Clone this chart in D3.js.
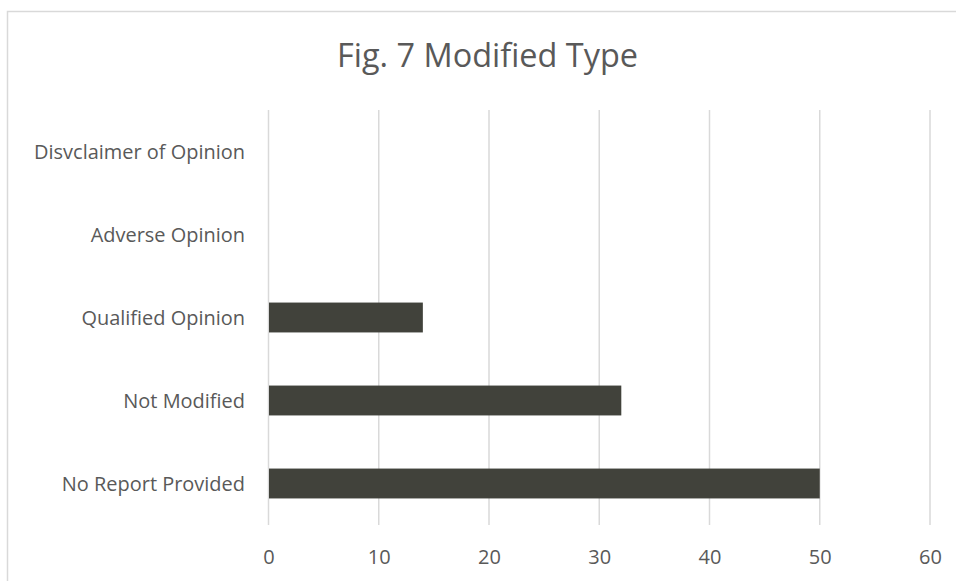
<!DOCTYPE html>
<html><head><meta charset="utf-8">
<script src="https://cdn.jsdelivr.net/npm/d3@7"></script>
<style>html,body{margin:0;padding:0;background:#fff;}</style>
</head><body>
<svg id="c" width="956" height="581"></svg>
<script>
const categories = ["Disvclaimer of Opinion","Adverse Opinion","Qualified Opinion","Not Modified","No Report Provided"];
const values = [0, 0, 14, 32, 50];
const xTicks = [0,10,20,30,40,50,60];
const title = "Fig. 7 Modified Type";

(function(){
const svg = d3.select("#c");
const font = "'Open Sans', sans-serif";
const textColor = "#595959";

// chart border
svg.append("rect").attr("x",7.5).attr("y",11.5).attr("width",960).attr("height",600)
  .attr("fill","none").attr("stroke","#d9d9d9").attr("stroke-width",1.5);

const pLeft = 268.5, pRight = 930, pTop = 110, pBottom = 525;
const x = d3.scaleLinear().domain([0,60]).range([pLeft,pRight]);
const y = d3.scaleBand().domain(categories).range([pTop,pBottom]).paddingInner(0.64).paddingOuter(0.32);

function fitSize(text, target){
  const t = svg.append("text").attr("font-family",font).attr("font-size",100).text(text);
  const w = t.node().getComputedTextLength(); t.remove();
  return 100*target/w;
}

// gridlines
svg.append("g").selectAll("line").data(xTicks).join("line")
  .attr("x1",d=>x(d)).attr("x2",d=>x(d)).attr("y1",pTop).attr("y2",pBottom)
  .attr("stroke","#d9d9d9").attr("stroke-width",1.5);

// bars
svg.append("g").selectAll("rect").data(categories).join("rect")
  .attr("x",x(0)+0.5).attr("y",d=>y(d))
  .attr("width",(d,i)=>Math.max(0,x(values[i])-x(0)-0.5))
  .attr("height",y.bandwidth()).attr("fill","#41423b");

// x axis labels
const xAxis = d3.axisBottom(x).tickValues(xTicks).tickSize(0).tickPadding(0);
const ga = svg.append("g").attr("transform",`translate(0,${pBottom})`).call(xAxis);
ga.select(".domain").remove();
ga.selectAll("text").attr("font-family",font).attr("font-size",20).attr("fill",textColor)
  .attr("dy",null).attr("y",39);

// y axis labels
const catSize = fitSize(categories[0], 211);
const yAxis = d3.axisLeft(y).tickSize(0).tickPadding(0);
const gy = svg.append("g").attr("transform",`translate(245,0)`).call(yAxis);
gy.select(".domain").remove();
gy.selectAll("text").attr("font-family",font).attr("font-size",catSize).attr("fill",textColor)
  .attr("dy","0.35em");

// title
const titleSize = fitSize(title, 301);
svg.append("text").attr("x",487.5).attr("y",67).attr("text-anchor","middle")
  .attr("font-family",font).attr("font-size",titleSize).attr("fill",textColor).text(title);
})();
</script>
</body></html>
